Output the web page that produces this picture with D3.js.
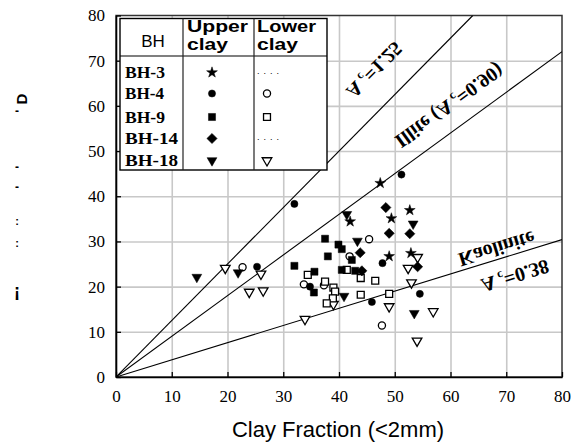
<!DOCTYPE html>
<html><head><meta charset="utf-8">
<script src="https://cdn.jsdelivr.net/npm/d3@7"></script>
<style>
body{margin:0;background:#fff;}
svg{display:block;}
</style></head>
<body>
<script>
// ---- data ----
const xTicks = [0,10,20,30,40,50,60,70,80];
const yTicks = [0,10,20,30,40,50,60,70,80];
const boreholes = ["BH-3","BH-4","BH-9","BH-14","BH-18"];

const bh3Upper  = [[47.4,42.9],[42.0,34.4],[49.4,35.1],[52.7,36.9],[49.0,26.7],[52.9,27.4]];
const bh4Upper  = [[32.0,38.3],[51.2,44.8],[47.8,25.2],[25.3,24.4],[34.8,20.0],[45.9,16.6],[54.5,18.4]];
const bh4Lower  = [[45.4,30.5],[22.7,24.3],[41.9,26.7],[33.7,20.5],[37.3,20.3],[47.7,11.4]];
const bh9Upper  = [[37.5,30.6],[39.9,29.3],[40.5,28.3],[38.0,26.7],[32.0,24.6],[42.3,25.9],[40.5,23.7],[42.9,23.5],[35.6,23.3],[35.5,18.7]];
const bh9Lower  = [[41.4,23.7],[43.9,21.9],[46.5,21.3],[34.4,22.6],[37.5,21.1],[39.0,19.8],[39.3,18.9],[38.9,17.4],[37.8,16.3],[43.9,18.2],[49.0,18.4]];
const bh14Upper = [[48.4,37.5],[49.0,31.8],[52.7,31.7],[43.8,27.5],[44.1,23.5],[54.1,24.4]];
const bh18Upper = [[41.4,36.0],[43.3,30.1],[21.9,23.1],[14.5,22.1],[40.9,17.9],[53.5,14.1],[53.3,33.9]];
const bh18Lower = [[19.6,24.1],[26.0,22.8],[23.9,18.8],[26.4,19.1],[39.0,16.1],[49.0,15.6],[33.9,12.8],[54.1,26.5],[52.4,24.1],[53.0,20.9],[56.9,14.5],[54.0,8.0]];

const activityLines = [1.25, 0.90, 0.38];

// ---- setup ----
const W = 572, H = 443;
const svg = d3.select("body").append("svg").attr("width", W).attr("height", H);
const x = d3.scaleLinear().domain([0,80]).range([116,562]);
const y = d3.scaleLinear().domain([0,80]).range([377,15.5]);
const serif = "'Liberation Serif','Times New Roman',serif";
const sans = "'Liberation Sans',Arial,sans-serif";

// gridlines
svg.append("g").attr("transform","translate(0,377)")
  .call(d3.axisBottom(x).tickValues(xTicks.slice(1,-1)).tickSize(-361.5).tickFormat(""))
  .call(g=>{g.select(".domain").remove(); g.selectAll("line").attr("stroke","#c8c8c8").attr("stroke-width",1.6);});
svg.append("g").attr("transform","translate(116,0)")
  .call(d3.axisLeft(y).tickValues(yTicks.slice(1,-1)).tickSize(-446).tickFormat(""))
  .call(g=>{g.select(".domain").remove(); g.selectAll("line").attr("stroke","#c8c8c8").attr("stroke-width",1.6);});

// plot border
svg.append("rect").attr("x",x(0)).attr("y",y(80)).attr("width",x(80)-x(0)).attr("height",y(0)-y(80))
  .attr("fill","none").attr("stroke","#333").attr("stroke-width",1.5);

// activity lines (clipped to plot)
svg.append("clipPath").attr("id","clip").append("rect")
  .attr("x",x(0)).attr("y",y(80)).attr("width",x(80)-x(0)).attr("height",y(0)-y(80));
const lg = svg.append("g").attr("clip-path","url(#clip)");
activityLines.forEach(a=>{
  const xe = Math.min(80, 80/a);
  lg.append("line").attr("x1",x(0)).attr("y1",y(0)).attr("x2",x(xe)).attr("y2",y(a*xe))
    .attr("stroke","#000").attr("stroke-width",1.1);
});

// axes
const yAxis = svg.append("g").attr("transform","translate(116,0)")
  .call(d3.axisLeft(y).tickValues(yTicks).tickSizeInner(-5).tickSizeOuter(0).tickPadding(11));
const xAxis = svg.append("g").attr("transform","translate(0,377)")
  .call(d3.axisBottom(x).tickValues(xTicks).tickSizeInner(-5).tickSizeOuter(0).tickPadding(13));
[yAxis,xAxis].forEach(g=>{
  g.select(".domain").attr("stroke","#000").attr("stroke-width",1.6);
  g.selectAll(".tick line").attr("stroke","#000").attr("stroke-width",1.3);
  g.selectAll(".tick text").attr("font-family",serif).attr("font-size",17).attr("fill","#000");
});

// axis title
svg.append("text").attr("x",338).attr("y",437).attr("text-anchor","middle")
  .attr("font-family",sans).attr("font-size",22).attr("fill","#000").text("Clay Fraction (<2mm)");

// y-axis label fragments (as seen in reference)
const yFrag = svg.append("g").attr("font-family",sans).attr("font-weight","bold").attr("fill","#000");
yFrag.append("text").attr("transform","translate(21,99) rotate(-90)").attr("text-anchor","middle")
  .attr("dominant-baseline","central").attr("font-size",15).text("D");
[112,168,188].forEach(py=>{
  yFrag.append("text").attr("x",17).attr("y",py+3).attr("text-anchor","middle").attr("font-size",12).text("-");
});
[221,243].forEach(py=>{
  yFrag.append("text").attr("x",17).attr("y",py+4).attr("text-anchor","middle").attr("font-size",11).text(":");
});
yFrag.append("text").attr("x",17).attr("y",297).attr("text-anchor","middle").attr("font-size",18).text("¡");

// line labels (mirrored text along lines)
function angleOf(a){ return Math.atan2(-(y(a)-y(0)), x(1)-x(0))*180/Math.PI; }
function lineLabel(cx, cy, a, parts){
  const t = svg.append("text")
    .attr("transform",`translate(${x(cx)},${y(cy)}) rotate(${-angleOf(a)}) scale(1,-1)`)
    .attr("text-anchor","middle").attr("dominant-baseline","central")
    .attr("font-family",serif).attr("font-weight","bold").attr("font-size",20).attr("fill","#000");
  parts.forEach(p=>{
    const s = t.append("tspan").text(p.t);
    if(p.sub) s.attr("font-size",12).attr("dy",5);
    if(p.up) s.attr("dy",-5);
  });
}
lineLabel(46.4, 67.9, 1.25, [{t:"A "},{t:"c",sub:true},{t:"=1.25",up:true}]);
lineLabel(59.8, 60.0, 0.90, [{t:"Illite (A "},{t:"c",sub:true},{t:"=0.90)",up:true}]);
lineLabel(68.3, 28.3, 0.38, [{t:"Kaolinite"}]);
lineLabel(71.6, 22.3, 0.38, [{t:"A "},{t:"c",sub:true},{t:"=0.38",up:true}]);

// markers
const sym = {
  star: d3.symbol(d3.symbolStar, 36),
  circle: d3.symbol(d3.symbolCircle, 40),
  ocircle: d3.symbol(d3.symbolCircle, 40),
  square: d3.symbol(d3.symbolSquare, 50),
  osquare: d3.symbol(d3.symbolSquare, 48),
  diamond: d3.symbol(d3.symbolSquare, 52),
  tri: d3.symbol(d3.symbolTriangle, 42),
  otri: d3.symbol(d3.symbolTriangle, 40)
};
function marker(g, kind, px, py){
  let rot = 0;
  if(kind==="diamond") rot = 45;
  if(kind==="tri" || kind==="otri") rot = 180;
  const open = kind.startsWith("o");
  g.append("path").attr("d", sym[kind]())
    .attr("transform",`translate(${px},${py}) rotate(${rot})`)
    .attr("fill", open ? "#fff" : "#000")
    .attr("stroke","#000").attr("stroke-width", open ? 1.3 : 0.5);
}
const series = [
  [bh18Lower,"otri"],[bh4Lower,"ocircle"],[bh9Lower,"osquare"],
  [bh9Upper,"square"],[bh4Upper,"circle"],[bh14Upper,"diamond"],[bh18Upper,"tri"],[bh3Upper,"star"]
];
const pg = svg.append("g");
series.forEach(([data,kind])=>{
  data.forEach(d=>marker(pg, kind, x(d[0]), y(d[1])));
});

// legend table
const L = {x0:120, x1:183, x2:254, x3:327, y0:18.5, y1:56, y2:170};
const leg = svg.append("g");
leg.append("rect").attr("x",L.x0).attr("y",L.y0).attr("width",L.x3-L.x0).attr("height",L.y2-L.y0)
  .attr("fill","#fff").attr("stroke","#000").attr("stroke-width",1.4);
leg.append("line").attr("x1",L.x0).attr("x2",L.x3).attr("y1",L.y1).attr("y2",L.y1).attr("stroke","#000").attr("stroke-width",1.2);
[L.x1,L.x2].forEach(xx=>leg.append("line").attr("x1",xx).attr("x2",xx).attr("y1",L.y0).attr("y2",L.y2).attr("stroke","#222").attr("stroke-width",1.2));
leg.append("text").attr("x",153).attr("y",47).attr("text-anchor","middle").attr("font-family",sans).attr("font-size",17).text("BH");
leg.append("text").attr("x",187).attr("y",32).attr("font-family",sans).attr("font-weight","bold").attr("font-size",16)
  .attr("textLength",61).attr("lengthAdjust","spacingAndGlyphs").text("Upper");
leg.append("text").attr("x",187).attr("y",50).attr("font-family",sans).attr("font-weight","bold").attr("font-size",16)
  .attr("textLength",41).attr("lengthAdjust","spacingAndGlyphs").text("clay");
leg.append("text").attr("x",257).attr("y",32).attr("font-family",sans).attr("font-weight","bold").attr("font-size",16)
  .attr("textLength",59).attr("lengthAdjust","spacingAndGlyphs").text("Lower");
leg.append("text").attr("x",257).attr("y",50).attr("font-family",sans).attr("font-weight","bold").attr("font-size",16)
  .attr("textLength",41).attr("lengthAdjust","spacingAndGlyphs").text("clay");

const rowY = [72.5, 93.5, 117, 138.5, 160.5];
const upperKinds = ["star","circle","square","diamond","tri"];
const lowerKinds = [null,"ocircle","osquare",null,"otri"];
const labW = [40,39,40,53,53];
boreholes.forEach((b,i)=>{
  leg.append("text").attr("x",125).attr("y",rowY[i]).attr("dominant-baseline","central")
    .attr("font-family",serif).attr("font-weight","bold").attr("font-size",16)
    .attr("textLength",labW[i]).attr("lengthAdjust","spacingAndGlyphs").text(b);
  marker(leg, upperKinds[i], 212, rowY[i]);
  if(lowerKinds[i]) marker(leg, lowerKinds[i], 267, rowY[i]);
  else leg.append("text").attr("x",257).attr("y",rowY[i]+1).attr("font-family",sans)
    .attr("font-size",9).attr("letter-spacing",4).text("....");
});
</script>
</body></html>
